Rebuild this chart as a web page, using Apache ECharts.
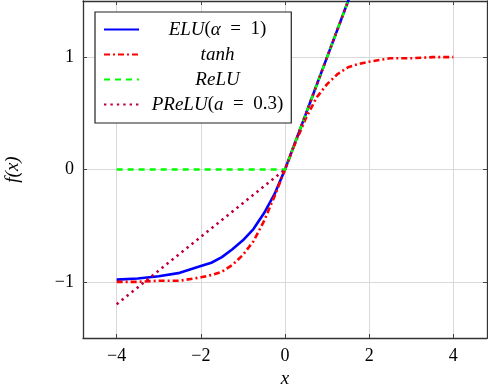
<!DOCTYPE html>
<html>
<head>
<meta charset="utf-8">
<script src="https://cdn.jsdelivr.net/npm/echarts@6/dist/echarts.min.js"></script>
<style>
  html, body { margin: 0; padding: 0; background: #fff; }
  #myChart { width: 488px; height: 386px; }
</style>
</head>
<body>
<div id="myChart"></div>
<script>
// sample points (x) and values
var xs = [-4, -3.5, -3, -2.5, -2, -1.75, -1.5, -1.25, -1, -0.75, -0.5, -0.25, 0,
          0.25, 0.5, 0.75, 1, 1.25, 1.5, 1.75, 2, 2.5, 3, 3.5, 4];
var eluVals = [-0.98, -0.97, -0.95, -0.92, -0.86, -0.83, -0.78, -0.71, -0.63, -0.53, -0.39, -0.22, 0,
               0.25, 0.5, 0.75, 1, 1.25, 1.5, 1.75, 2, 2.5, 3, 3.5, 4];
var tanhVals = [-1.0, -1.0, -0.99, -0.99, -0.96, -0.94, -0.91, -0.85, -0.76, -0.64, -0.46, -0.24, 0,
                0.24, 0.46, 0.64, 0.76, 0.85, 0.91, 0.94, 0.96, 0.99, 0.99, 1.0, 1.0];
var reluVals = [0, 0, 0, 0, 0, 0, 0, 0, 0, 0, 0, 0, 0,
                0.25, 0.5, 0.75, 1, 1.25, 1.5, 1.75, 2, 2.5, 3, 3.5, 4];
var preluVals = [-1.2, -1.05, -0.9, -0.75, -0.6, -0.525, -0.45, -0.375, -0.3, -0.225, -0.15, -0.075, 0,
                 0.25, 0.5, 0.75, 1, 1.25, 1.5, 1.75, 2, 2.5, 3, 3.5, 4];

var xTicks = [-4, -2, 0, 2, 4];
var yTicks = [-1, 0, 1];
var seriesNames = ['ELU', 'tanh', 'ReLU', 'PReLU'];

function pairs(vals) {
    return xs.map(function (x, i) { return [x, vals[i]]; });
}

function minusFmt(v) {
    return String(v).replace('-', '\u2212');
}

var serif = '"Liberation Serif", "DejaVu Serif", serif';
var sp = '\u2002';
var legendFontSize = 19;
var legendTextWidth = 147;

// legend label pieces: [style, text]
var legendParts = {
    ELU: [['i', 'ELU'], ['n', '('], ['i', 'α'], ['n', sp + '=' + sp + '1)']],
    tanh: [['i', 'tanh']],
    ReLU: [['i', 'ReLU']],
    PReLU: [['i', 'PReLU'], ['n', '('], ['i', 'a'], ['n', sp + '=' + sp + '0.3)']]
};

// centre the legend text like pgfplots does
var ctx = document.createElement('canvas').getContext('2d');
function partsWidth(parts) {
    var w = 0;
    parts.forEach(function (p) {
        ctx.font = (p[0] === 'i' ? 'italic ' : '') + legendFontSize + 'px ' + serif;
        w += ctx.measureText(p[1]).width;
    });
    return w;
}

var myChart = echarts.init(document.getElementById('myChart'));

function lineSeries(name, vals, color, type, width) {
    return {
        name: name,
        type: 'line',
        data: pairs(vals),
        symbol: 'none',
        smooth: false,
        clip: true,
        lineStyle: { color: color, width: width, type: type, cap: 'butt', join: 'round' },
        itemStyle: { color: color }
    };
}

var richStyles = {
    i: { fontFamily: serif, fontStyle: 'italic', fontSize: legendFontSize, color: '#000', lineHeight: 21 },
    n: { fontFamily: serif, fontSize: legendFontSize, color: '#000', lineHeight: 21 }
};
seriesNames.forEach(function (name) {
    var pad = Math.max(0, (legendTextWidth - partsWidth(legendParts[name])) / 2);
    richStyles['s' + name] = { width: pad, lineHeight: 21, fontSize: legendFontSize };
});

var tickStyle = { show: true, inside: true, length: 4, lineStyle: { color: '#444', width: 1 } };
var axisLineStyle = { show: true, onZero: false, lineStyle: { color: '#333', width: 1.3 } };
var gridLine = { show: true, lineStyle: { color: '#d9d9d9', width: 1 } };
var tickFont = { fontFamily: serif, fontSize: 18, color: '#000', margin: 9 };

var option = {
    animation: false,
    grid: { left: 83, right: 1, top: 1, bottom: 48, containLabel: false, outerBoundsMode: 'none' },
    legend: {
        left: 95,
        top: 12,
        orient: 'vertical',
        itemWidth: 35,
        itemHeight: 14,
        itemGap: 6,
        padding: [8, 8, 9, 8],
        backgroundColor: '#fff',
        borderColor: '#222',
        borderWidth: 1.2,
        borderRadius: 0,
        itemStyle: { opacity: 0 },
        data: seriesNames,
        formatter: function (name) {
            return '{s' + name + '| }' + legendParts[name].map(function (p) {
                return '{' + p[0] + '|' + p[1] + '}';
            }).join('');
        },
        textStyle: { rich: richStyles }
    },
    xAxis: [{
        type: 'value',
        min: -4.8,
        max: 4.8,
        position: 'bottom',
        axisLine: axisLineStyle,
        axisTick: Object.assign({ customValues: xTicks }, tickStyle),
        splitLine: gridLine,
        axisLabel: Object.assign({ customValues: xTicks, formatter: minusFmt }, tickFont),
        name: 'x',
        nameLocation: 'middle',
        nameGap: 30,
        nameTextStyle: { fontFamily: serif, fontStyle: 'italic', fontSize: 19, color: '#000' }
    }, {
        type: 'value',
        min: -4.8,
        max: 4.8,
        position: 'top',
        axisLine: axisLineStyle,
        axisTick: Object.assign({ customValues: xTicks }, tickStyle),
        splitLine: { show: false },
        axisLabel: { show: false }
    }],
    yAxis: [{
        type: 'value',
        min: -1.5,
        max: 1.5,
        position: 'left',
        axisLine: axisLineStyle,
        axisTick: Object.assign({ customValues: yTicks }, tickStyle),
        splitLine: gridLine,
        axisLabel: Object.assign({ customValues: yTicks, formatter: minusFmt }, tickFont),
        name: 'f(x)',
        nameLocation: 'middle',
        nameGap: 61,
        nameRotate: 90,
        nameTextStyle: { fontFamily: serif, fontStyle: 'italic', fontSize: 19, color: '#000' }
    }, {
        type: 'value',
        min: -1.5,
        max: 1.5,
        position: 'right',
        axisLine: axisLineStyle,
        axisTick: Object.assign({ customValues: yTicks }, tickStyle),
        splitLine: { show: false },
        axisLabel: { show: false }
    }],
    series: [
        lineSeries('ELU', eluVals, '#0000ff', 'solid', 2.6),
        lineSeries('tanh', tanhVals, '#ff0000', [6, 3, 2, 3], 2.6),
        lineSeries('ReLU', reluVals, '#00ff00', [6, 5], 2.6),
        lineSeries('PReLU', preluVals, '#bf0040', [2.4, 4], 2.6)
    ]
};

myChart.setOption(option);
</script>
</body>
</html>
